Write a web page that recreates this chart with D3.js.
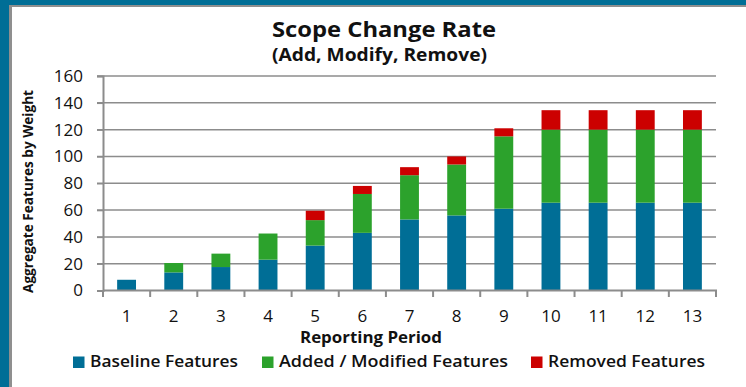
<!DOCTYPE html>
<html>
<head>
<meta charset="utf-8">
<script src="https://cdn.jsdelivr.net/npm/d3@7"></script>
<style>
  html, body { margin: 0; padding: 0; background: #ffffff; }
  svg { display: block; font-family: "Open Sans", sans-serif; }
</style>
</head>
<body>
<svg id="chart" width="746" height="387"></svg>
<script>
// ---- data ----
const periods = ["1","2","3","4","5","6","7","8","9","10","11","12","13"];
const baseline = [8, 13.5, 17.5, 23, 33.5, 43, 53, 56, 61, 65.5, 65.5, 65.5, 65.5];
const addedModified = [0, 7, 10, 19.5, 19, 29, 33, 38, 54, 54.5, 54.5, 54.5, 54.5];
const removed = [0, 0, 0, 0, 7, 6, 6, 6, 6, 14.5, 14.5, 14.5, 14.5];
const seriesNames = ["Baseline Features", "Added / Modified Features", "Removed Features"];
const yTicks = [0, 20, 40, 60, 80, 100, 120, 140, 160];
const colors = ["#006e96", "#2ca22c", "#cc0000"];

const FONT = "'Open Sans', sans-serif";
const svg = d3.select("#chart");

// frame
svg.append("rect").attr("x", 0).attr("y", 0).attr("width", 746).attr("height", 387).attr("fill", "#ffffff");
svg.append("rect").attr("x", 0).attr("y", 0).attr("width", 746).attr("height", 5).attr("fill", "#006e96");
svg.append("rect").attr("x", 0).attr("y", 0).attr("width", 9).attr("height", 387).attr("fill", "#006e96");
svg.append("rect").attr("x", 9).attr("y", 5).attr("width", 737).attr("height", 2).attr("fill", "#8f8f8f");
svg.append("rect").attr("x", 9).attr("y", 5).attr("width", 3).attr("height", 382).attr("fill", "#8f8f8f");

const rows = periods.map((p, i) => ({
  period: p,
  [seriesNames[0]]: baseline[i],
  [seriesNames[1]]: addedModified[i],
  [seriesNames[2]]: removed[i]
}));
const stacked = d3.stack().keys(seriesNames)(rows);

const x = d3.scaleBand().domain(periods).range([103, 716]).paddingInner(0.6).paddingOuter(0.3);
const y = d3.scaleLinear().domain([0, 160]).range([290.5, 76]);

// gridlines
svg.append("g")
  .selectAll("line")
  .data(yTicks.filter(t => t > 0))
  .join("line")
  .attr("x1", 97).attr("x2", 716)
  .attr("y1", d => y(d)).attr("y2", d => y(d))
  .attr("stroke", "#8c8c8c").attr("stroke-width", 1.5);

// y axis
const yAxis = svg.append("g")
  .attr("transform", "translate(103,0)")
  .call(d3.axisLeft(y).tickValues(yTicks).tickSize(6).tickPadding(14));
yAxis.select(".domain").attr("stroke", "#8c8c8c").attr("stroke-width", 2);
yAxis.selectAll(".tick line").attr("stroke", "#8c8c8c").attr("stroke-width", 1.5);
yAxis.selectAll(".tick text").attr("font-size", 17).attr("fill", "#111").attr("font-family", FONT);

// bars
svg.append("g")
  .selectAll("g")
  .data(stacked)
  .join("g")
  .attr("fill", (d, i) => colors[i])
  .selectAll("rect")
  .data(d => d)
  .join("rect")
  .attr("x", d => x(d.data.period))
  .attr("width", x.bandwidth())
  .attr("y", d => y(d[1]))
  .attr("height", d => y(d[0]) - y(d[1]));

// x axis
const xAxis = svg.append("g")
  .attr("transform", "translate(0,290.5)")
  .call(d3.axisBottom(x).tickSize(0).tickPadding(19));
xAxis.select(".domain").remove();
xAxis.selectAll(".tick text").attr("font-size", 17).attr("fill", "#111").attr("font-family", FONT);
svg.append("line").attr("x1", 103).attr("x2", 717).attr("y1", 290.5).attr("y2", 290.5)
  .attr("stroke", "#8c8c8c").attr("stroke-width", 2);
// category boundary ticks
const bounds = d3.range(periods.length + 1).map(i => 103 + i * x.step());
svg.append("g").selectAll("line").data(bounds).join("line")
  .attr("x1", d => d).attr("x2", d => d)
  .attr("y1", 290.5).attr("y2", 297)
  .attr("stroke", "#8c8c8c").attr("stroke-width", 2);

// titles
svg.append("text").attr("x", 384).attr("y", 37).attr("text-anchor", "middle")
  .attr("font-size", 22).attr("font-weight", "bold").attr("fill", "#111")
  .attr("textLength", 224).attr("lengthAdjust", "spacingAndGlyphs").text("Scope Change Rate");
svg.append("text").attr("x", 379.5).attr("y", 61).attr("text-anchor", "middle")
  .attr("font-size", 17).attr("font-weight", "bold").attr("fill", "#111")
  .attr("textLength", 215).attr("lengthAdjust", "spacingAndGlyphs").text("(Add, Modify, Remove)");
svg.append("text").attr("x", 371).attr("y", 342.5).attr("text-anchor", "middle")
  .attr("font-size", 16.5).attr("font-weight", "bold").attr("fill", "#111")
  .attr("textLength", 142).attr("lengthAdjust", "spacingAndGlyphs").text("Reporting Period");
svg.append("text").attr("transform", "translate(32.5,191.5) rotate(-90)").attr("text-anchor", "middle")
  .attr("font-size", 14).attr("font-weight", "bold").attr("fill", "#111")
  .attr("textLength", 203).attr("lengthAdjust", "spacingAndGlyphs").text("Aggregate Features by Weight");

// legend
const legendX = [73, 262, 531];
const legendW = [148, 229, 157];
const lg = svg.append("g").selectAll("g").data(seriesNames).join("g")
  .attr("transform", (d, i) => `translate(${legendX[i]},0)`);
lg.append("rect").attr("x", 0).attr("y", 356.5).attr("width", 11.5).attr("height", 11.5).attr("fill", (d, i) => colors[i]);
lg.append("text").attr("x", 17).attr("y", 367).attr("font-size", 16.5).attr("font-weight", 600)
  .attr("fill", "#111")
  .attr("textLength", (d, i) => legendW[i]).attr("lengthAdjust", "spacingAndGlyphs")
  .text(d => d);
</script>
</body>
</html>
